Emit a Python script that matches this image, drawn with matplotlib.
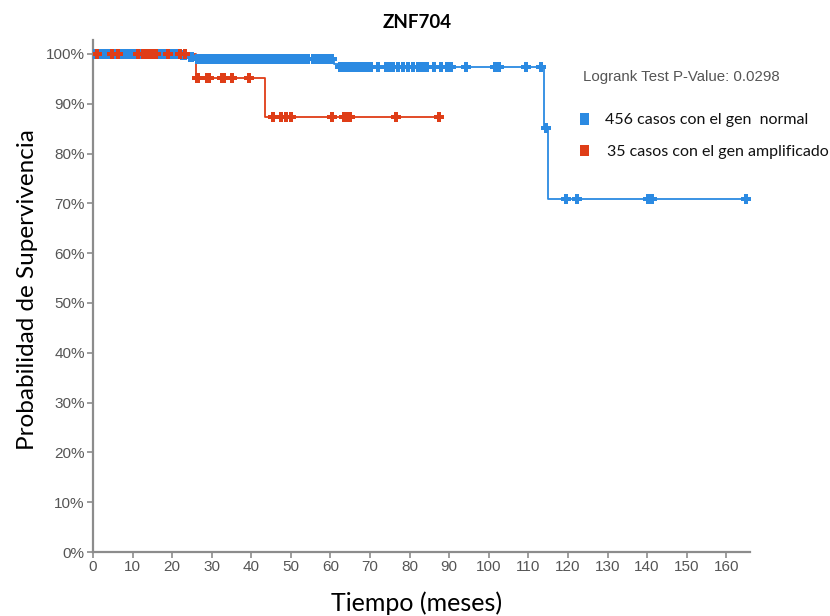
import numpy as np
import matplotlib
matplotlib.use("Agg")
import matplotlib.pyplot as plt
from matplotlib.patches import Rectangle

# Kaplan-Meier curves: step times (months) and survival (%)
normal_times = [0, 22, 24, 25.5, 61, 62, 114, 115, 165]
normal_surv = [100, 99.8, 99.4, 98.9, 98.0, 97.3, 85.1, 70.9, 70.9]
amp_times = [0, 26, 43.5, 87.4]
amp_surv = [100, 95.2, 87.3, 87.3]

# Censored observations (months)
normal_censored = [
    0.3, 0.8, 1.2, 1.7, 2.1, 2.6, 3.0, 3.5, 4.1, 4.6, 5.2, 5.8, 6.4, 7.0, 7.5,
    8.1, 8.7, 9.2, 9.8, 10.4, 11.0, 11.6, 12.1, 12.7, 13.3, 13.9, 14.5, 15.0,
    15.6, 16.2, 16.8, 17.3, 17.9, 18.5, 19.1, 19.7, 20.2, 20.8, 21.4,
    22.5, 23.2, 24.6, 25.1, 26.2, 26.9, 27.5, 28.2, 28.9, 29.6, 30.3, 31.0,
    31.7, 32.4, 33.1, 33.8, 34.5, 35.2, 35.9, 36.6, 37.3, 38.0, 38.7, 39.4,
    40.1, 40.8, 41.5, 42.2, 42.9, 43.6, 44.3, 45.0, 45.7, 46.4, 47.1, 47.8,
    48.5, 49.2, 49.9, 50.6, 51.3, 52.0, 52.7, 53.4, 54.4, 55.6, 56.3, 57.0,
    57.7, 58.4, 59.1, 59.8, 60.5,
    62.4, 63.0, 63.6, 64.2, 64.8, 65.4, 66.0, 66.6, 67.2, 67.8, 68.4, 69.0,
    69.6, 70.2, 72.0, 74.0, 74.8, 75.8, 77.0, 78.3, 79.5, 80.8, 82.0, 82.8,
    83.6, 84.5, 86.2, 88.0, 89.4, 90.4, 94.2, 101.5, 102.5, 109.3, 113.3,
    114.5, 119.4, 122.2, 140.2, 141.2, 165.0,
]
amp_censored = [
    1.0, 4.8, 6.3, 11.4, 12.6, 13.1, 13.9, 14.4, 15.1, 15.4, 15.8, 19.0,
    22.0, 23.2,
    26.3, 26.6, 28.8, 29.2, 32.6, 33.0, 35.1, 39.4,
    45.5, 47.5, 48.7, 50.0, 60.4, 63.4, 63.9, 64.4, 64.9, 76.5, 87.4,
]

# Axis ticks
x_ticks = list(range(0, 161, 10))
y_ticks = list(range(0, 101, 10))
y_tick_labels = [f"{v}%" for v in y_ticks]

title = "ZNF704"
x_label = "Tiempo (meses)"
y_label = "Probabilidad de Supervivencia"
pvalue_text = "Logrank Test P-Value: 0.0298"
legend_labels = ["456 casos con el gen  normal", "35 casos con el gen amplificado"]

blue = "#2b8ae2"
red = "#df3d17"


def surv_at(t, times, surv):
    idx = np.searchsorted(np.asarray(times), np.asarray(t), side="right") - 1
    return np.asarray(surv)[idx]


fig = plt.figure(figsize=(8.30, 6.16), dpi=100)
ax = fig.add_axes([93 / 830, 1 - 552 / 616, (750 - 93) / 830, (552 - 40) / 616])

for times, surv, cens, col in [
    (normal_times, normal_surv, normal_censored, blue),
    (amp_times, amp_surv, amp_censored, red),
]:
    ax.step(times, surv, where="post", color=col, lw=1.3, zorder=2)
    ax.plot(cens, surv_at(cens, times, surv), linestyle="none", marker="P",
            markersize=7.5, color=col, markeredgewidth=0, zorder=3)

ax.set_xlim(0, 166)
ax.set_ylim(0, 102.8)
ax.set_xticks(x_ticks)
ax.set_yticks(y_ticks)
ax.set_yticklabels(y_tick_labels)

for side in ("top", "right"):
    ax.spines[side].set_visible(False)
for side in ("left", "bottom"):
    ax.spines[side].set_color("#8c8c8c")
    ax.spines[side].set_linewidth(1.6)

ax.tick_params(axis="both", direction="out", length=4, width=1.2,
               color="#8c8c8c", labelcolor="#555555", labelsize=11, pad=2)
for lab in ax.get_xticklabels() + ax.get_yticklabels():
    lab.set_family(["Liberation Sans", "DejaVu Sans"])

fig.text(417 / 830, 1 - 22 / 616, title, ha="center", va="center",
         fontsize=13.5, fontweight="bold", family=["Lato", "DejaVu Sans"])
fig.text(417 / 830, 1 - 603 / 616, x_label, ha="center", va="center",
         fontsize=18, family=["Lato", "DejaVu Sans"])
fig.text(28 / 830, 1 - 290 / 616, y_label, ha="center", va="center",
         rotation=90, fontsize=17.5, family=["Lato", "DejaVu Sans"])

fig.text(583 / 830, 1 - 77 / 616, pvalue_text, ha="left", va="center",
         fontsize=10.8, color="#555555", family=["Liberation Sans", "DejaVu Sans"])

for (ycen, label, col, tx) in [(119, legend_labels[0], blue, 605),
                               (151, legend_labels[1], red, 607)]:
    fig.patches.append(Rectangle((580 / 830, 1 - (ycen + 5.5) / 616),
                                 9 / 830, 11 / 616, transform=fig.transFigure,
                                 facecolor=col, edgecolor="none"))
    fig.text(tx / 830, 1 - (ycen + 1) / 616, label, ha="left", va="center",
             fontsize=11.5, color="#111111", family=["Lato", "DejaVu Sans"])

fig.savefig("out.png", dpi=100)
